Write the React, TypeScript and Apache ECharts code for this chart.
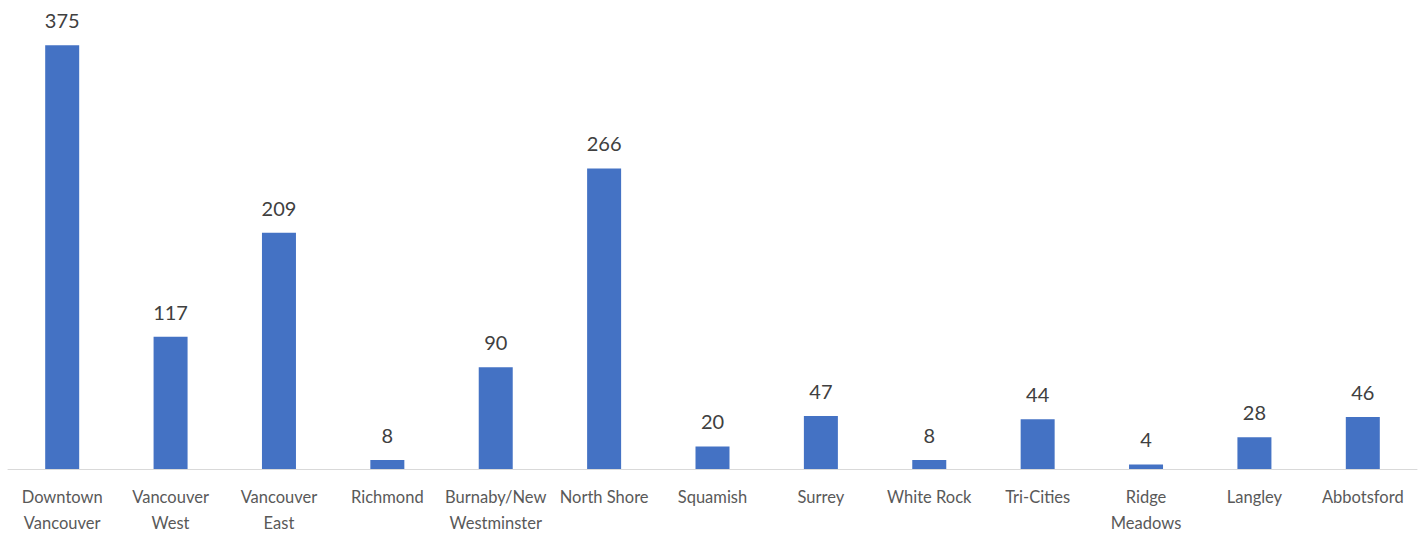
import React, { useEffect, useRef } from "react";
import * as echarts from "echarts";

const regions = [
  "Downtown\nVancouver",
  "Vancouver\nWest",
  "Vancouver\nEast",
  "Richmond",
  "Burnaby/New\nWestminster",
  "North Shore",
  "Squamish",
  "Surrey",
  "White Rock",
  "Tri-Cities",
  "Ridge\nMeadows",
  "Langley",
  "Abbotsford",
];

const counts = [375, 117, 209, 8, 90, 266, 20, 47, 8, 44, 4, 28, 46];

const FONT = "Lato, 'Open Sans', sans-serif";

export default function App() {
  const ref = useRef<HTMLDivElement>(null);

  useEffect(() => {
    if (!ref.current) return;
    const chart = echarts.init(ref.current, null, { renderer: "svg" });
    chart.setOption({
      animation: false,
      backgroundColor: "#ffffff",
      grid: { left: 8, right: 4, top: 17, bottom: 65, containLabel: false },
      xAxis: {
        type: "category",
        data: regions,
        axisLine: { show: true, lineStyle: { color: "#d9d9d9", width: 1 } },
        axisTick: { show: false },
        axisLabel: {
          interval: 0,
          color: "#595959",
          fontFamily: FONT,
          fontSize: 16.5,
          lineHeight: 26,
          margin: 15,
        },
      },
      yAxis: {
        type: "value",
        min: 0,
        max: 400,
        show: false,
        splitLine: { show: false },
      },
      series: [
        {
          type: "bar",
          data: counts,
          barWidth: 34,
          itemStyle: { color: "#4472c4" },
          label: {
            show: true,
            position: "top",
            distance: 15,
            color: "#404040",
            fontFamily: FONT,
            fontSize: 20,
          },
        },
      ],
    });
    return () => chart.dispose();
  }, []);

  return (
    <div
      ref={ref}
      style={{ position: "absolute", left: 0, top: 0, width: 1421, height: 536 }}
    />
  );
}
